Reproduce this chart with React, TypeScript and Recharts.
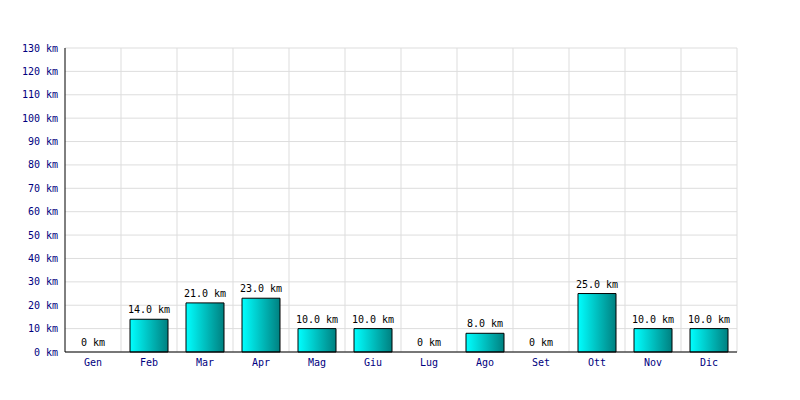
import { ComposedChart, Bar, Line, XAxis, YAxis, CartesianGrid } from 'recharts';

const months = ['Gen', 'Feb', 'Mar', 'Apr', 'Mag', 'Giu', 'Lug', 'Ago', 'Set', 'Ott', 'Nov', 'Dic'];
const distances = [0, 14, 21, 23, 10, 10, 0, 8, 0, 25, 10, 10];
const yTicks = [0, 10, 20, 30, 40, 50, 60, 70, 80, 90, 100, 110, 120, 130];

const data = months.map((month, i) => ({ month, km: distances[i] }));

const font = '"DejaVu Sans Mono", monospace';

const formatLabel = (v: any) => (v === 0 ? '0 km' : `${Number(v).toFixed(1)} km`);

// labels drawn from an invisible line so zero-height bars still get one
const PointLabel = (props: any) => {
  const { x, y, value } = props;
  return (
    <text x={x} y={y - 6} textAnchor="middle" fill="#000" fontSize={10} fontFamily={font}>
      {formatLabel(value)}
    </text>
  );
};

export default function App() {
  return (
    <div style={{ position: 'absolute', left: 0, top: 0, width: 800, height: 400, background: '#fff' }}>
      <ComposedChart width={800} height={400} data={data} margin={{ top: 48, right: 63, left: 0, bottom: 0 }}>
        <defs>
          <linearGradient id="barFill" x1="0" y1="0" x2="1" y2="0">
            <stop offset="0%" stopColor="#00ffff" />
            <stop offset="100%" stopColor="#008080" />
          </linearGradient>
        </defs>
        <CartesianGrid
          stroke="#dddddd"
          verticalCoordinatesGenerator={({ offset }: any) =>
            months.map((_, i) => offset.left + ((i + 1) * offset.width) / months.length)
          }
        />
        <XAxis
          dataKey="month"
          height={48}
          tickLine={false}
          axisLine={{ stroke: '#000' }}
          tick={{ fill: '#000080', fontSize: 10, fontFamily: font }}
          tickMargin={1}
        />
        <YAxis
          width={65}
          domain={[0, 130]}
          ticks={yTicks}
          interval={0}
          tickLine={false}
          axisLine={{ stroke: '#000' }}
          tickFormatter={(v) => `${v} km`}
          tick={{ fill: '#000080', fontSize: 10, fontFamily: font }}
          tickMargin={1}
        />
        <Bar
          dataKey="km"
          fill="url(#barFill)"
          stroke="#000"
          strokeWidth={1}
          barSize={38}
          isAnimationActive={false}
        />
        <Line
          dataKey="km"
          stroke="none"
          dot={false}
          activeDot={false}
          isAnimationActive={false}
          label={<PointLabel />}
        />
      </ComposedChart>
    </div>
  );
}
